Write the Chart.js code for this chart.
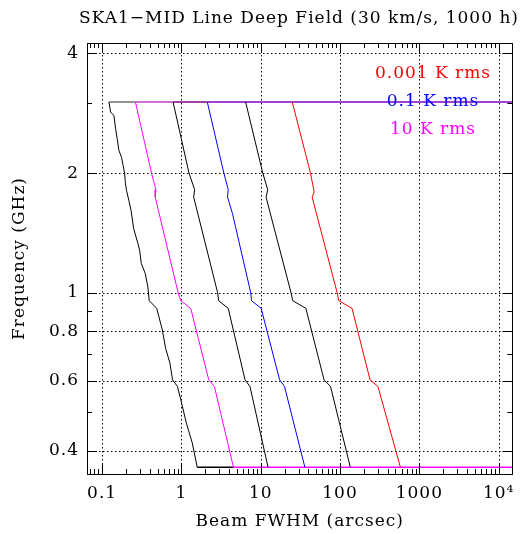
<!DOCTYPE html>
<html>
<head>
<meta charset="utf-8">
<script src="https://cdn.jsdelivr.net/npm/chart.js@4.4.0/dist/chart.umd.min.js"></script>
<style>
  html, body { margin: 0; padding: 0; background: #fff; }
  canvas { display: block; }
</style>
</head>
<body>
<canvas id="chart" width="522" height="534"></canvas>
<script>
const FONT = '"DejaVu Serif", serif';

// 曲线数据：频率 (GHz) 对应波束 FWHM (arcsec)
const freqBlack1 = [3.02, 2.85, 2.79, 2.585, 2.44, 2.28, 2.19, 2.09, 2.0, 1.88, 1.81, 1.71, 1.61, 1.45, 1.33, 1.28, 1.185, 1.118, 1.035, 0.955, 0.914, 0.806, 0.725, 0.665, 0.604, 0.581, 0.538, 0.470, 0.419, 0.364];
const beamBlack1 = [0.122, 0.128, 0.141, 0.148, 0.155, 0.163, 0.176, 0.184, 0.192, 0.197, 0.203, 0.217, 0.232, 0.250, 0.283, 0.297, 0.312, 0.350, 0.377, 0.393, 0.488, 0.575, 0.632, 0.717, 0.773, 0.892, 0.983, 1.154, 1.371, 1.582];

const freqMagenta = [3.02, 2.0, 1.817, 1.741, 1.0, 0.955, 0.914, 0.604, 0.581, 0.364];
const beamMagenta = [0.263, 0.42, 0.477, 0.467, 0.91, 0.983, 1.309, 2.213, 2.606, 4.53];

const freqBlack2 = [3.02, 2.0, 1.817, 1.741, 1.0, 0.955, 0.914, 0.604, 0.581, 0.364];
const beamBlack2 = [0.785, 1.247, 1.469, 1.427, 2.864, 2.948, 3.893, 6.339, 7.316, 12.37];

const freqBlue = [3.02, 2.0, 1.817, 1.741, 1.582, 1.0, 0.955, 0.914, 0.604, 0.581, 0.364];
const beamBlue = [2.12, 3.432, 3.893, 3.815, 4.404, 7.484, 7.658, 10.12, 17.3, 19.96, 36.04];

const freqBlack3 = [3.02, 2.0, 1.817, 1.739, 1.0, 0.955, 0.914, 0.604, 0.581, 0.364];
const beamBlack3 = [6.451, 10.62, 12.26, 11.68, 24.12, 25.32, 37.07, 62.85, 75.93, 134.8];

const freqRed = [3.02, 2.0, 1.794, 1.739, 1.0, 0.955, 0.914, 0.604, 0.581, 0.364];
const beamRed = [24.96, 42.44, 47.18, 44.55, 92.0, 96.6, 141.5, 239.1, 300.8, 576.7];

// 上下边界水平线
const edgeTopFreq = 3.02;
const edgeTopBeam = [0.122, 0.263, 0.785, 2.12, 6.451, 24.96, 14900];
const edgeTopColors = ['#707070', '#c040c0', '#800080', '#8400c4', '#8400c4', '#8400c4'];
const edgeBottomFreq = 0.364;
const edgeBottomBeam = [1.582, 4.53, 14900];
const edgeBottomColors = ['#000000', '#ff00ff'];

// 坐标轴
const xRange = [0.0645, 14900];
const yRange = [0.35, 4.25];
const xMajorTicks = [0.1, 1, 10, 100, 1000, 10000];
const yMajorTicks = [0.4, 0.6, 0.8, 1, 2, 4];
const yMinorTicks = [0.5, 0.7, 0.9, 3];

const legendLabels = ['0.001 K rms', '0.1 K rms', '10 K rms'];
const legendColors = ['#ff0000', '#0000ff', '#ff00ff'];

function toPoints(beams, freqs) {
  return beams.map((b, i) => ({ x: b, y: Array.isArray(freqs) ? freqs[i] : freqs }));
}

function curve(beams, freqs, color) {
  return { data: toPoints(beams, freqs), borderColor: color, borderWidth: 1, pointRadius: 0, showLine: true, fill: false };
}

function xMinorTicks() {
  const out = [];
  for (let e = -2; e <= 4; e++) {
    for (let k = 2; k <= 9; k++) {
      const v = k * Math.pow(10, e);
      if (v > xRange[0] && v < xRange[1]) out.push(v);
    }
  }
  return out;
}

const gridPlugin = {
  id: 'gridPlugin',
  beforeDraw(chart) {
    // 字距稍宽，接近原图字体
    chart.ctx.letterSpacing = '1px';
  },
  beforeDatasetsDraw(chart) {
    const { ctx, chartArea: a, scales: { x, y } } = chart;
    ctx.save();
    ctx.strokeStyle = '#000';
    ctx.lineWidth = 1;
    ctx.setLineDash([1.5, 2.5]);
    xMajorTicks.forEach(v => {
      const px = Math.round(x.getPixelForValue(v)) + 0.5;
      ctx.beginPath(); ctx.moveTo(px, a.top); ctx.lineTo(px, a.bottom); ctx.stroke();
    });
    yMajorTicks.forEach(v => {
      const py = Math.round(y.getPixelForValue(v)) + 0.5;
      ctx.beginPath(); ctx.moveTo(a.left, py); ctx.lineTo(a.right, py); ctx.stroke();
    });
    ctx.restore();
  },
  afterDatasetsDraw(chart) {
    const { ctx, chartArea: a, scales: { x, y } } = chart;
    ctx.save();
    ctx.strokeStyle = '#000';
    ctx.lineWidth = 1;
    ctx.strokeRect(Math.round(a.left) + 0.5, Math.round(a.top) + 0.5, Math.round(a.right - a.left), Math.round(a.bottom - a.top));

    // 向内刻度
    const tickX = (v, len) => {
      const px = Math.round(x.getPixelForValue(v)) + 0.5;
      ctx.beginPath();
      ctx.moveTo(px, a.bottom); ctx.lineTo(px, a.bottom - len);
      ctx.moveTo(px, a.top); ctx.lineTo(px, a.top + len);
      ctx.stroke();
    };
    const tickY = (v, len) => {
      const py = Math.round(y.getPixelForValue(v)) + 0.5;
      ctx.beginPath();
      ctx.moveTo(a.left, py); ctx.lineTo(a.left + len, py);
      ctx.moveTo(a.right, py); ctx.lineTo(a.right - len, py);
      ctx.stroke();
    };
    xMajorTicks.forEach(v => tickX(v, 10));
    xMinorTicks().forEach(v => tickX(v, 5));
    yMajorTicks.forEach(v => tickY(v, 10));
    yMinorTicks.forEach(v => tickY(v, 5));

    // 图例文字
    ctx.font = '17px ' + FONT;
    ctx.textAlign = 'center';
    ctx.textBaseline = 'middle';
    legendLabels.forEach((t, i) => {
      ctx.fillStyle = legendColors[i];
      ctx.fillText(t, 433, 74 + i * 28);
    });

    // 标题
    ctx.fillStyle = '#000';
    ctx.fillText('SKA1\u2212MID Line Deep Field (30 km/s, 1000 h)', 299, 19);
    ctx.restore();
  }
};

const datasets = [
  curve(beamBlack1, freqBlack1, '#000000'),
  curve(beamMagenta, freqMagenta, '#ff00ff'),
  curve(beamBlack2, freqBlack2, '#000000'),
  curve(beamBlue, freqBlue, '#0000ff'),
  curve(beamBlack3, freqBlack3, '#000000'),
  curve(beamRed, freqRed, '#ff0000'),
  {
    data: toPoints(edgeTopBeam, edgeTopFreq), borderWidth: 1.5, pointRadius: 0, showLine: true,
    borderColor: '#8400c4', segment: { borderColor: c => edgeTopColors[c.p0DataIndex] }
  },
  {
    data: toPoints(edgeBottomBeam, edgeBottomFreq), borderWidth: 1.5, pointRadius: 0, showLine: true,
    borderColor: '#ff00ff', segment: { borderColor: c => edgeBottomColors[c.p0DataIndex] }
  }
];

const chart = new Chart(document.getElementById('chart'), {
  type: 'scatter',
  data: { datasets },
  options: {
    responsive: false,
    animation: false,
    layout: { padding: { top: 43, right: 4, left: 0, bottom: 0 } },
    plugins: { legend: { display: false }, tooltip: { enabled: false } },
    scales: {
      x: {
        type: 'logarithmic',
        min: xRange[0], max: xRange[1],
        afterFit(s) { s.height = 60; },
        afterBuildTicks(s) { s.ticks = xMajorTicks.map(v => ({ value: v })); },
        grid: { display: false, drawTicks: false },
        border: { display: false },
        ticks: {
          autoSkip: false, maxRotation: 0, padding: 9,
          color: '#000', font: { family: FONT, size: 17 },
          callback: v => (v === 10000 ? '10\u2074' : String(v))
        },
        title: { display: true, text: 'Beam FWHM (arcsec)', color: '#000', font: { family: FONT, size: 17 }, padding: { top: 0, bottom: 2 } }
      },
      y: {
        type: 'logarithmic',
        min: yRange[0], max: yRange[1],
        afterFit(s) { s.width = 87; },
        afterBuildTicks(s) { s.ticks = yMajorTicks.map(v => ({ value: v })); },
        grid: { display: false, drawTicks: false },
        border: { display: false },
        ticks: {
          autoSkip: false, padding: 8,
          color: '#000', font: { family: FONT, size: 17 },
          callback: v => String(v)
        },
        title: { display: true, text: 'Frequency (GHz)', color: '#000', font: { family: FONT, size: 17 }, padding: { top: 9, bottom: 0 } }
      }
    }
  },
  plugins: [gridPlugin]
});
</script>
</body>
</html>
